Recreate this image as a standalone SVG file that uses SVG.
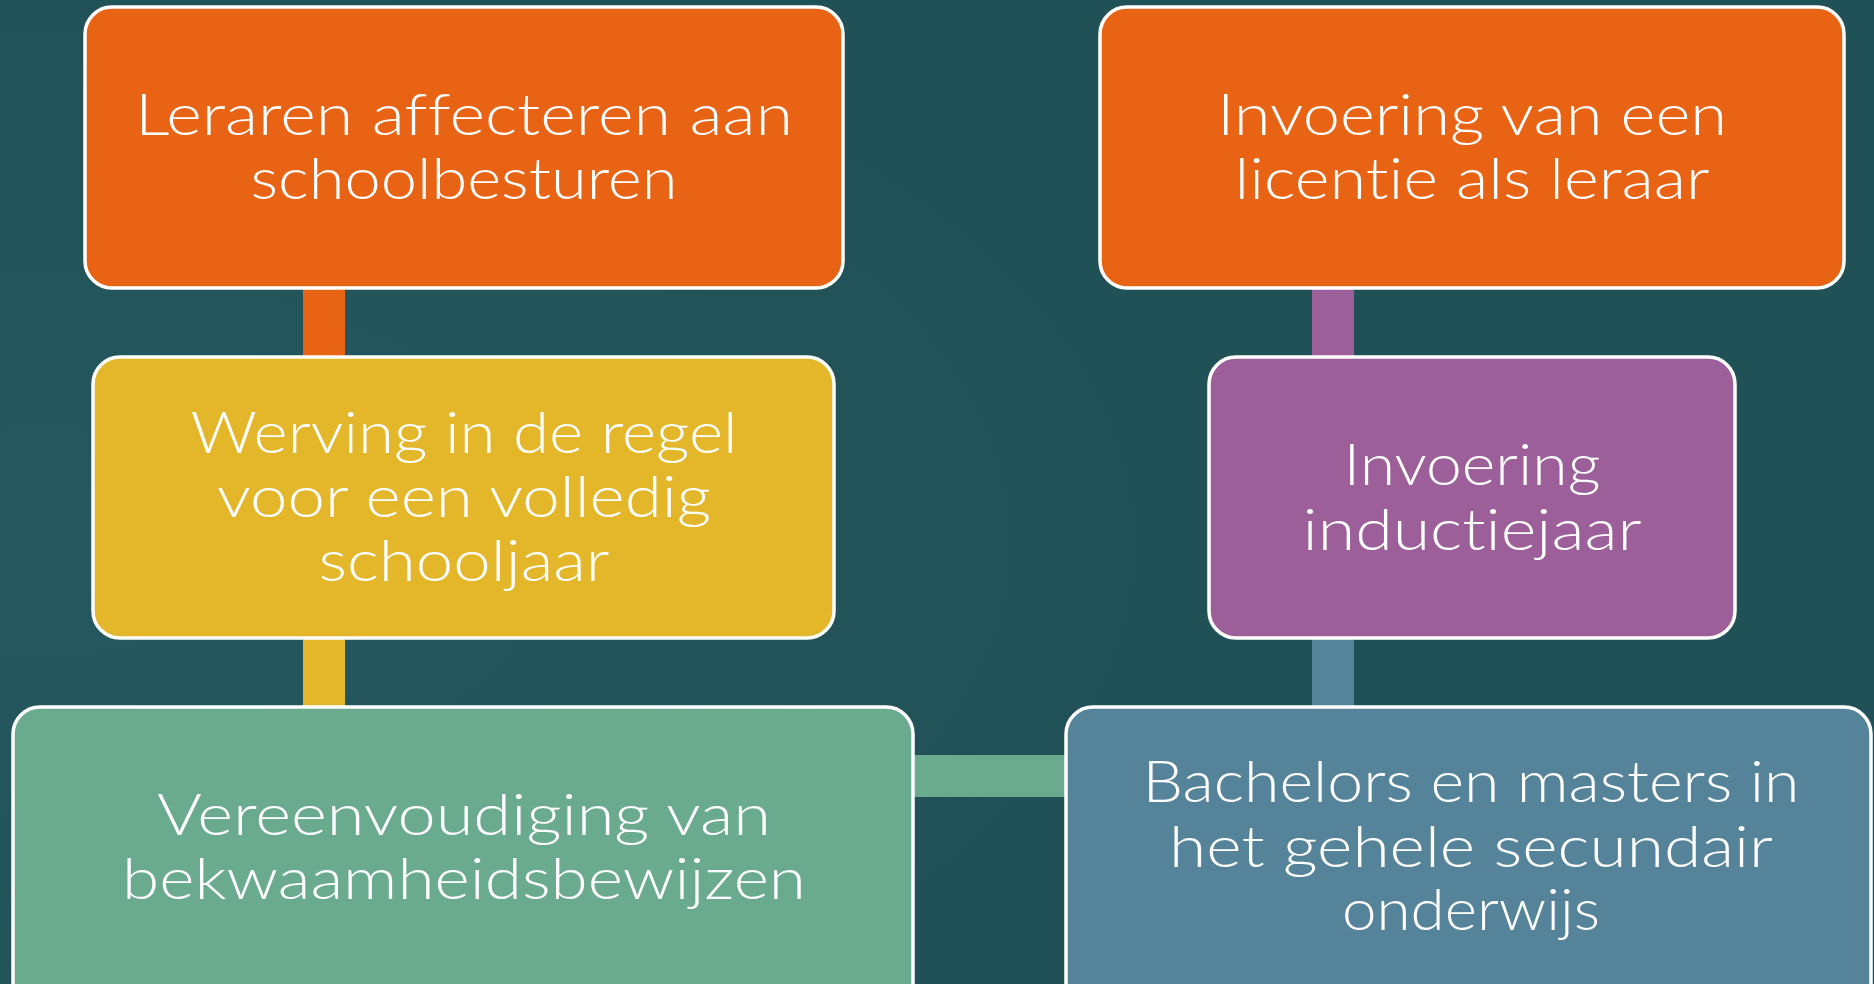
<svg xmlns="http://www.w3.org/2000/svg" width="1874" height="984" viewBox="0 0 1874 984">
<defs>
<radialGradient id="bg" cx="0.02" cy="0.55" r="0.6">
<stop offset="0" stop-color="#25595F"/>
<stop offset="1" stop-color="#205157"/>
</radialGradient>
<style>
.box{stroke:#FFFFFF;stroke-width:3.5}
.t{font-family:Lato,"Open Sans","Liberation Sans",sans-serif;font-weight:300;font-size:58px;fill:#FFFFFF;text-anchor:middle;font-variant-ligatures:none;font-feature-settings:"liga" 0,"clig" 0}
</style>
</defs>
<rect x="0" y="0" width="1874" height="984" fill="url(#bg)"/>
<g id="connectors">
<rect x="303" y="288" width="42" height="70" fill="#E96314"/>
<rect x="303" y="638" width="42" height="70" fill="#E4B72A"/>
<rect x="912" y="755" width="154" height="42" fill="#6AAB8F"/>
<rect x="1312" y="288" width="42" height="70" fill="#9C5F99"/>
<rect x="1312" y="638" width="42" height="70" fill="#55849A"/>
</g>
<g id="n1">
<rect class="box" x="85" y="7" width="758" height="281" rx="27" fill="#E96314"/>
<text class="t" x="464" y="135" textLength="658" lengthAdjust="spacingAndGlyphs">Leraren affecteren aan</text>
<text class="t" x="464" y="199" textLength="427" lengthAdjust="spacingAndGlyphs">schoolbesturen</text>
</g>
<g id="n2">
<rect class="box" x="93" y="357" width="741" height="281" rx="27" fill="#E4B72A"/>
<text class="t" x="464" y="453" textLength="547" lengthAdjust="spacingAndGlyphs">Werving in de regel</text>
<text class="t" x="464" y="517" textLength="494" lengthAdjust="spacingAndGlyphs">voor een volledig</text>
<text class="t" x="464" y="581" textLength="291" lengthAdjust="spacingAndGlyphs">schooljaar</text>
</g>
<g id="n3">
<rect class="box" x="13" y="707" width="900" height="320" rx="27" fill="#6AAB8F"/>
<text class="t" x="464" y="835" textLength="614" lengthAdjust="spacingAndGlyphs">Vereenvoudiging van</text>
<text class="t" x="464" y="899" textLength="684" lengthAdjust="spacingAndGlyphs">bekwaamheidsbewijzen</text>
</g>
<g id="n4">
<rect class="box" x="1100" y="7" width="744" height="281" rx="27" fill="#E96314"/>
<text class="t" x="1472" y="135" textLength="510" lengthAdjust="spacingAndGlyphs">Invoering van een</text>
<text class="t" x="1472" y="199" textLength="475" lengthAdjust="spacingAndGlyphs">licentie als leraar</text>
</g>
<g id="n5">
<rect class="box" x="1209" y="357" width="526" height="281" rx="27" fill="#9C5F99"/>
<text class="t" x="1472" y="485" textLength="257" lengthAdjust="spacingAndGlyphs">Invoering</text>
<text class="t" x="1472" y="550" textLength="339" lengthAdjust="spacingAndGlyphs">inductiejaar</text>
</g>
<g id="n6">
<rect class="box" x="1066" y="707" width="805" height="320" rx="27" fill="#55849A"/>
<text class="t" x="1471" y="802" textLength="657" lengthAdjust="spacingAndGlyphs">Bachelors en masters in</text>
<text class="t" x="1471" y="867" textLength="604" lengthAdjust="spacingAndGlyphs">het gehele secundair</text>
<text class="t" x="1471" y="930" textLength="258" lengthAdjust="spacingAndGlyphs">onderwijs</text>
</g>
</svg>
